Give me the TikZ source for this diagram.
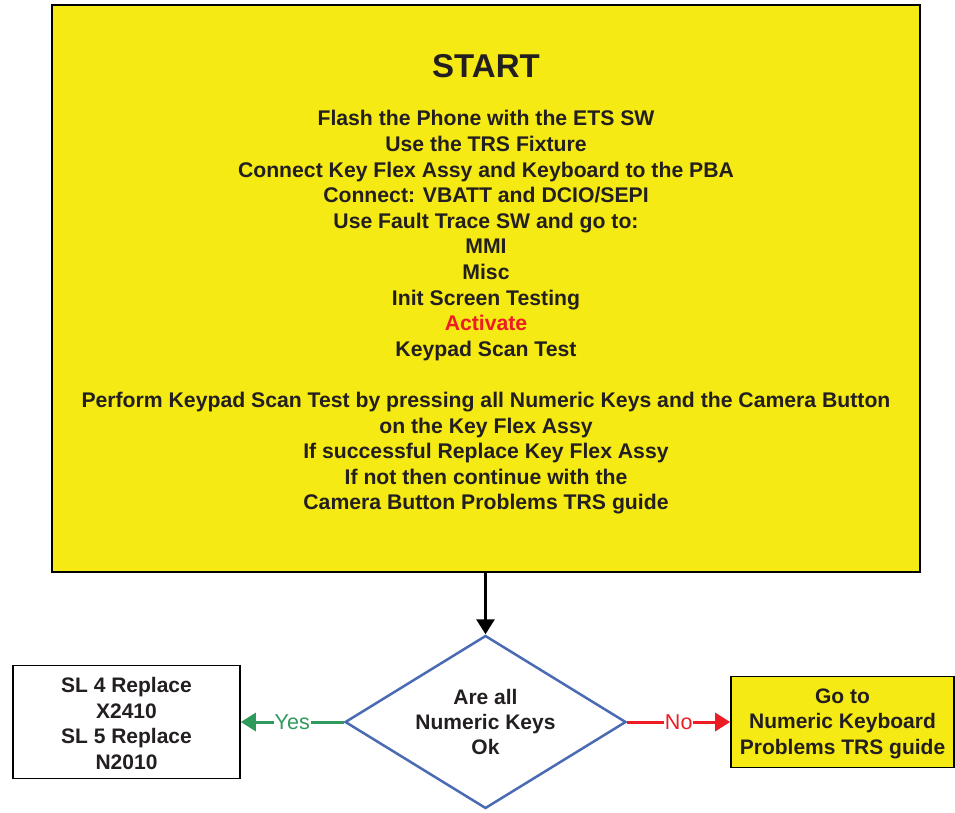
\documentclass[tikz,border=0pt]{standalone}
\usepackage{fontspec}
\setmainfont{Liberation Sans}
\usetikzlibrary{arrows.meta,shapes.geometric}
\definecolor{boxyellow}{HTML}{F5EA14}
\definecolor{diablue}{HTML}{4A6AB4}
\definecolor{yesgreen}{HTML}{2E9A5C}
\definecolor{nored}{HTML}{ED1C24}
\definecolor{inkblack}{HTML}{231F20}
\tikzset{
  boxstyle/.style={draw=black, line width=1.6pt, inner sep=0pt},
  txt/.style={font=\fontsize{21.2}{25.6}\selectfont\bfseries, align=center, text=inkblack},
  conn/.style={line width=3pt, -{Triangle[length=15pt,width=18pt]}},
  lbl/.style={fill=white, inner sep=1pt, font=\fontsize{21.5}{24}\selectfont}
}
\begin{document}
\begin{tikzpicture}[x=1pt,y=1pt]
\useasboundingbox (0,0) rectangle (955,-812);
% main start box
\node[boxstyle, fill=boxyellow, minimum width=868pt, minimum height=567pt] (start) at (486,-288.5) {};
\node[txt, font=\fontsize{33}{38}\selectfont\bfseries] (title) at (486,-66) {START};
\node[txt, anchor=north] (body) at (486,-107) {Flash the Phone with the ETS SW\\
Use the TRS Fixture\\
Connect Key Flex Assy and Keyboard to the PBA\\
Connect: VBATT and DCIO/SEPI\\
Use Fault Trace SW and go to:\\
MMI\\
Misc\\
Init Screen Testing\\
\textcolor{nored}{Activate}\\
Keypad Scan Test\\[25.6pt]
Perform Keypad Scan Test by pressing all Numeric Keys and the Camera Button\\
on the Key Flex Assy\\
If successful Replace Key Flex Assy\\
If not then continue with the\\
Camera Button Problems TRS guide};
% decision
\node[diamond, draw=diablue, line width=2.5pt, fill=white, inner sep=0pt,
      minimum width=281pt, minimum height=173pt] (dia) at (485.5,-722) {};
\node[txt, font=\fontsize{21}{25}\selectfont\bfseries] (diatext) at (485.5,-722) {Are all\\Numeric Keys\\Ok};
% left box
\node[boxstyle, fill=white, minimum width=227pt, minimum height=113pt] (lbox) at (126.5,-722) {};
\node[txt, font=\fontsize{21}{25.5}\selectfont\bfseries] (ltext) at (126.5,-723.5) {SL 4 Replace\\X2410\\SL 5 Replace\\N2010};
% right box
\node[boxstyle, fill=boxyellow, minimum width=223pt, minimum height=91pt] (rbox) at (842.5,-722) {};
\node[txt, font=\fontsize{21}{25.5}\selectfont\bfseries] (rtext) at (842.5,-723.5) {Go to\\Numeric Keyboard\\Problems TRS guide};
% connectors
\draw[conn, black] (start.south -| dia.north) -- (dia.north);
\draw[conn, yesgreen] (dia.west) -- node[lbl, text=yesgreen] (yes) {Yes} (lbox.east);
\draw[conn, nored] (dia.east) -- node[lbl, text=nored] (no) {No} (rbox.west);
\end{tikzpicture}
\end{document}
